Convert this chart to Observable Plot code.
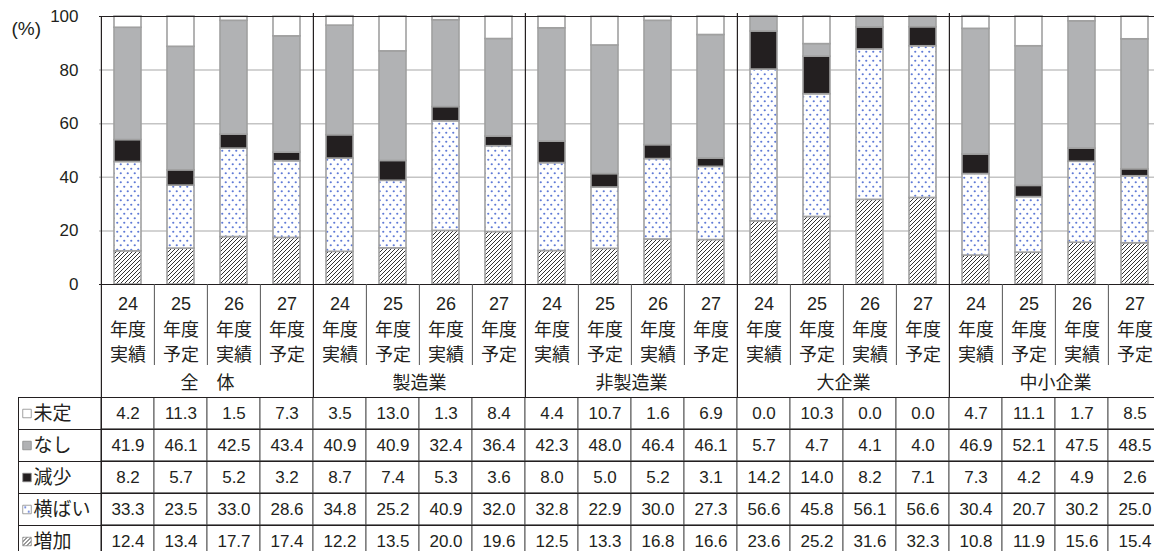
<!DOCTYPE html>
<html><head><meta charset="utf-8">
<script src="https://cdn.jsdelivr.net/npm/d3@7"></script>
<script src="https://cdn.jsdelivr.net/npm/@observablehq/plot@0.6"></script>
<style>
html,body{margin:0;padding:0;overflow:hidden;background:#fff;width:1154px;height:551px}
#chart svg{display:block}
</style></head><body>
<svg width="0" height="0" style="position:absolute">
<defs>
<pattern id="hatch" patternUnits="userSpaceOnUse" width="4" height="4">
<rect width="4" height="4" fill="#fff"/>
<path d="M-1,1 L1,-1 M0,4 L4,0 M3,5 L5,3" stroke="#333" stroke-width="1"/>
</pattern>
<pattern id="dots" patternUnits="userSpaceOnUse" width="7" height="9">
<rect width="7" height="9" fill="#fff"/>
<circle cx="1.75" cy="2.25" r="1.1" fill="#5f7ad6"/>
<circle cx="5.25" cy="6.75" r="1.1" fill="#5f7ad6"/>
</pattern>
</defs></svg>
<div id="chart"></div>
<script>
// ---- data ----
const groups = ["全　体", "製造業", "非製造業", "大企業", "中小企業"];
const years = ["24", "25", "26", "27"];
const kinds = ["実績", "予定", "実績", "予定"];
const series = ["未定", "なし", "減少", "横ばい", "増加"];
const mitei   = [4.2, 11.3, 1.5, 7.3,  3.5, 13.0, 1.3, 8.4,  4.4, 10.7, 1.6, 6.9,  0.0, 10.3, 0.0, 0.0,  4.7, 11.1, 1.7, 8.5];
const nashi   = [41.9, 46.1, 42.5, 43.4,  40.9, 40.9, 32.4, 36.4,  42.3, 48.0, 46.4, 46.1,  5.7, 4.7, 4.1, 4.0,  46.9, 52.1, 47.5, 48.5];
const genshou = [8.2, 5.7, 5.2, 3.2,  8.7, 7.4, 5.3, 3.6,  8.0, 5.0, 5.2, 3.1,  14.2, 14.0, 8.2, 7.1,  7.3, 4.2, 4.9, 2.6];
const yokobai = [33.3, 23.5, 33.0, 28.6,  34.8, 25.2, 40.9, 32.0,  32.8, 22.9, 30.0, 27.3,  56.6, 45.8, 56.1, 56.6,  30.4, 20.7, 30.2, 25.0];
const zouka   = [12.4, 13.4, 17.7, 17.4,  12.2, 13.5, 20.0, 19.6,  12.5, 13.3, 16.8, 16.6,  23.6, 25.2, 31.6, 32.3,  10.8, 11.9, 15.6, 15.4];
const yTicks = [0, 20, 40, 60, 80, 100];
const unitLabel = "(%)";

// ---- derived tables ----
const valuesBySeries = {"未定": mitei, "なし": nashi, "減少": genshou, "横ばい": yokobai, "増加": zouka};
const stackOrder = ["増加", "横ばい", "減少", "なし", "未定"];
const keys = [];
groups.forEach(g => years.forEach((y, i) => keys.push(g + "|" + i)));
const barRows = [];
keys.forEach((k, j) => stackOrder.forEach(s => barRows.push({key: k, series: s, value: valuesBySeries[s][j]})));
const tableRows = [];
series.forEach(s => keys.forEach((k, j) => tableRows.push({key: k, series: s, value: valuesBySeries[s][j]})));

// ---- styles / layout ----
const FONT = '"Liberation Sans", "Noto Sans CJK JP", sans-serif';
const INK = "#231f20";
const fills = {"未定": "#ffffff", "なし": "#b1b2b4", "減少": "#231f20", "横ばい": "url(#dots)", "増加": "url(#hatch)"};
const color = {type: "ordinal", domain: series, range: series.map(s => fills[s])};
const X0 = 99, X1 = 1163.4;
const bw = (X1 - X0) / keys.length;
const xScale = {type: "band", domain: keys, range: [X0, X1], paddingInner: 0, paddingOuter: 0, axis: null};
const groupFirst = keys.filter((k, i) => i % 4 === 0);
const innerKeys = keys.filter((k, i) => i % 4 !== 0);
const groupMid = keys.filter((k, i) => i % 4 === 2);
const headerText = k => { const i = +k.split("|")[1]; return years[i] + "\n年度\n" + kinds[i]; };

const chart = Plot.plot({
  width: 1154, height: 397,
  marginLeft: 99, marginRight: 0, marginTop: 13, marginBottom: 0,
  style: {fontFamily: FONT, fontSize: "17px", color: INK, background: "#fff", overflow: "hidden"},
  x: xScale,
  y: {domain: [0, 100], range: [284, 16], axis: null},
  color,
  marks: [
    Plot.ruleY(yTicks.filter(t => t > 0 && t < 100), {stroke: "#c4c4c4", strokeWidth: 1.5}),
    Plot.barY(barRows.filter(d => d.value > 0), {x: "key", y: "value", fill: "series", stroke: "#a0a0a0", strokeWidth: 1.6, insetLeft: 13, insetRight: 13}),
    Plot.ruleY([0, 100], {stroke: INK, strokeWidth: 1.2}),
    Plot.ruleX(innerKeys, {x: d => d, dx: -bw / 2, stroke: "#555", insetTop: 284 - 13, insetBottom: 397 - 365}),
    Plot.ruleX(groupFirst.slice(1), {x: d => d, dx: -bw / 2, stroke: INK, strokeWidth: 1.2}),
    Plot.ruleX(groupFirst.slice(0, 1), {x: d => d, dx: -bw / 2, stroke: INK, strokeWidth: 1.2, insetTop: 3}),
    Plot.axisY({ticks: yTicks, tickSize: 0, tickPadding: 21, fontSize: 17, label: null}),
    Plot.text([unitLabel], {frameAnchor: "top-left", dx: -88, dy: 8, textAnchor: "start", fontSize: 19}),
    Plot.text(keys, {x: d => d, text: headerText, frameAnchor: "bottom", dy: -70, lineAnchor: "middle", lineHeight: 1.42, fontSize: 18}),
    Plot.text(groupMid, {x: d => d, text: d => d.split("|")[0], dx: -bw / 2, frameAnchor: "bottom", dy: -9, fontSize: 18})
  ]
});

const table = Plot.plot({
  width: 1154, height: 160,
  marginLeft: 18, marginRight: 0, marginTop: 0, marginBottom: 0,
  style: {fontFamily: FONT, fontSize: "17px", color: INK, background: "#fff", overflow: "hidden"},
  x: xScale,
  y: {type: "band", domain: series, range: [0, 160], paddingInner: 0, paddingOuter: 0, axis: null},
  color,
  marks: [
    Plot.cell(tableRows, {x: "key", y: "series", fill: "#fff", stroke: "#555"}),
    Plot.ruleY(series, {y: d => d, dy: -16, stroke: INK}),
    Plot.ruleX(groupFirst.slice(0, 1), {x: d => d, dx: -bw / 2, stroke: INK, strokeWidth: 1.2}),
    Plot.frame({stroke: INK}),
    Plot.text(tableRows, {x: "key", y: "series", text: d => d.value.toFixed(1), fontSize: 17}),
    Plot.dot(series, {y: d => d, frameAnchor: "left", dx: 8.5, symbol: "square", r: 4.8, fill: d => d, stroke: "#8a8a8a", strokeWidth: 0.8}),
    Plot.text(series, {y: d => d, text: d => d, frameAnchor: "left", dx: 15, textAnchor: "start", fontSize: 19})
  ]
});

const root = document.getElementById("chart");
root.appendChild(chart);
root.appendChild(table);
</script>
</body></html>
